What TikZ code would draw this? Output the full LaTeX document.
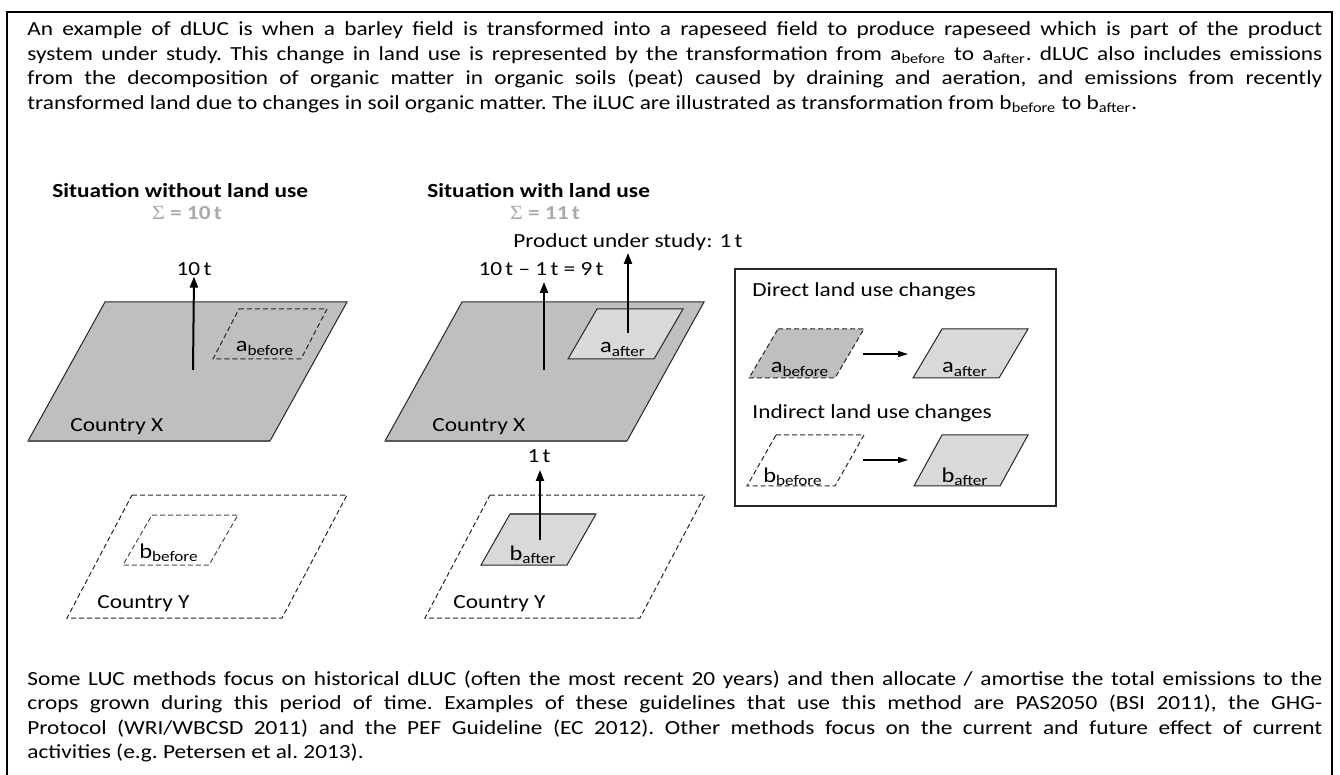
\documentclass[tikz,border=0pt]{standalone}
\usepackage{fontspec}
\setmainfont{Carlito}[FakeStretch=1.165]
\newfontfamily\sigmafont{Liberation Serif}[FakeStretch=1.1]
\usetikzlibrary{arrows.meta}
\definecolor{darkfill}{HTML}{BFBFBF}
\definecolor{lightfill}{HTML}{D9D9D9}
\definecolor{sumgray}{HTML}{ABABAB}
\definecolor{edgec}{HTML}{262626}
\newcommand\lsub[2]{#1\textsubscript{#2}}
\newcommand\pgram[7]{\draw[#1] (#3,#4) coordinate (#2-tl) -- ++(#5,0) coordinate (#2-tr) -- ++(-#7,#6) coordinate (#2-br) -- ++(-#5,0) coordinate (#2-bl) -- cycle;}
\tikzset{
  txt/.style={inner sep=0pt, font=\fontsize{10pt}{12pt}\selectfont},
  ttl/.style={inner sep=0pt, font=\fontsize{10pt}{12pt}\selectfont\bfseries, anchor=base west},
  sumtxt/.style={inner sep=0pt, font=\fontsize{10pt}{12pt}\selectfont\bfseries, text=sumgray, anchor=base},
  lbl/.style={inner sep=0pt, font=\fontsize{10.5pt}{12pt}\selectfont, anchor=base},
  solidp/.style={draw=edgec, line width=0.5pt},
  dashp/.style={draw=edgec, line width=0.5pt, dash pattern=on 2.5pt off 1.5pt},
  flow/.style={line width=1pt, -{Triangle[length=5.5pt,width=4pt]}},
  legarrow/.style={line width=0.55pt, -{Triangle[length=5pt,width=3pt]}},
}
\begin{document}
\begin{tikzpicture}[x=0.5pt,y=-0.5pt]
\useasboundingbox (0,0) rectangle (1340,775);
\draw[line width=0.8pt, black] (7,12) rectangle (1332,800);

% top paragraph
\node[txt, anchor=base west] (toptext) at (27,36) {\parbox[t]{647.5pt}{\fontsize{10pt}{12.25pt}\selectfont\frenchspacing
An example of dLUC is when a barley field is transformed into a rapeseed field to produce rapeseed which is part of the product\linebreak
system under study. This change in land use is represented by the transformation from \lsub{a}{before} to \lsub{a}{after}. dLUC also includes emissions\linebreak
from the decomposition of organic matter in organic soils (peat) caused by draining and aeration, and emissions from recently\linebreak
transformed land due to changes in soil organic matter. The iLUC are illustrated as transformation from \lsub{b}{before} to \lsub{b}{after}.}};

% bottom paragraph
\node[txt, anchor=base west] (bottext) at (27,685) {\parbox[t]{647.5pt}{\fontsize{10pt}{12.25pt}\selectfont\frenchspacing
Some LUC methods focus on historical dLUC (often the most recent 20 years) and then allocate / amortise the total emissions to the\linebreak
crops grown during this period of time. Examples of these guidelines that use this method are PAS2050 (BSI 2011), the GHG-\linebreak
Protocol (WRI/WBCSD 2011) and the PEF Guideline (EC 2012). Other methods focus on the current and future effect of current\linebreak
activities (e.g. Petersen et al. 2013).}};

% titles
\node[ttl] (t1) at (52,198) {Situation without land use};
\node[sumtxt] (s1) at (187,220) {{\sigmafont\mdseries Σ} = 10\,t};
\node[ttl] (t2) at (427,198) {Situation with land use};
\node[sumtxt] (s2) at (545,220) {{\sigmafont\mdseries Σ} = 11\,t};

% left: without land use
\pgram{solidp, fill=darkfill}{cx1}{105}{302}{242}{139}{77}
\draw[line width=1.1pt, color=black!65] (cx1-bl) -- (cx1-br);
\pgram{dashp}{ab1}{239}{309}{88}{50}{26}
\pgram{dashp}{cy1}{132}{495}{215}{123}{65}
\pgram{dashp, draw=black!70}{bb1}{152}{515}{86}{50}{29}
\node[txt, anchor=base west] (cx1l) at (70,431) {Country X};
\node[txt, anchor=base west] (cy1l) at (97,608) {Country Y};
\node[lbl] (ab1l) at (265,352) {\lsub{a}{before}};
\node[lbl] (bb1l) at (169,558) {\lsub{b}{before}};
\node[txt, anchor=base] (f1l) at (194,276) {10\,t};
\coordinate (f1s) at (193,370);
\draw[flow] (f1s) -- (f1l.south);

% middle: with land use
\pgram{solidp, fill=darkfill}{cx2}{462}{302}{242}{139}{77}
\draw[line width=1.1pt, color=black!65] (cx2-bl) -- (cx2-br);
\pgram{solidp, fill=lightfill}{aa2}{597}{309}{86}{50}{29}
\pgram{dashp}{cy2}{490}{495}{215}{123}{65}
\pgram{solidp, fill=lightfill}{ba2}{510}{514}{86}{51}{29}
\draw[line width=1.1pt, color=black!65] (ba2-tl) -- (ba2-tr);
\node[txt, anchor=base west] (cx2l) at (432,431) {Country X};
\node[txt, anchor=base west] (cy2l) at (453,608) {Country Y};
\node[lbl] (aa2l) at (623,353) {\lsub{a}{after}};
\node[lbl] (ba2l) at (533,560) {\lsub{b}{after}};
\node[txt, anchor=base] (f2l) at (541,276) {10\,t – 1\,t = 9\,t};
\node[txt, anchor=base west] (f3l) at (513,248) {Product under study: 1\,t};
\node[txt, anchor=base] (f4l) at (539,463) {1\,t};
\coordinate (f2s) at (544,370);
\coordinate (f2e) at (544,282);
\coordinate (f3s) at (628,333);
\coordinate (f3e) at (628,253);
\coordinate (f4s) at (540,540);
\coordinate (f4e) at (540,470);
\draw[flow] (f2s) -- (f2e);
\draw[flow] (f3s) -- (f3e);
\draw[flow] (f4s) -- (f4e);

% legend
\draw[draw=edgec, line width=0.6pt] (735,269) rectangle (1056,506);
\node[txt, anchor=base west] (dl) at (752,297) {Direct land use changes};
\node[txt, anchor=base west] (il) at (752,419) {Indirect land use changes};
\pgram{dashp, fill=darkfill}{abl}{778}{329}{86}{49}{29}
\pgram{solidp, fill=lightfill}{aal}{942}{329}{86}{49}{29}
\pgram{dashp}{bbl}{776}{435}{88}{51}{29}
\pgram{solidp, fill=lightfill}{bal}{942}{435}{86}{51}{28}
\node[lbl] (abll) at (800,373) {\lsub{a}{before}};
\node[lbl] (aall) at (965,373) {\lsub{a}{after}};
\node[lbl] (bbll) at (793,482) {\lsub{b}{before}};
\node[lbl] (ball) at (965,482) {\lsub{b}{after}};
\coordinate (la1s) at (863,354);
\coordinate (la1e) at (908,354);
\coordinate (la2s) at (863,460);
\coordinate (la2e) at (908,460);
\draw[legarrow] (la1s) -- (la1e);
\draw[legarrow] (la2s) -- (la2e);
\end{tikzpicture}
\end{document}
